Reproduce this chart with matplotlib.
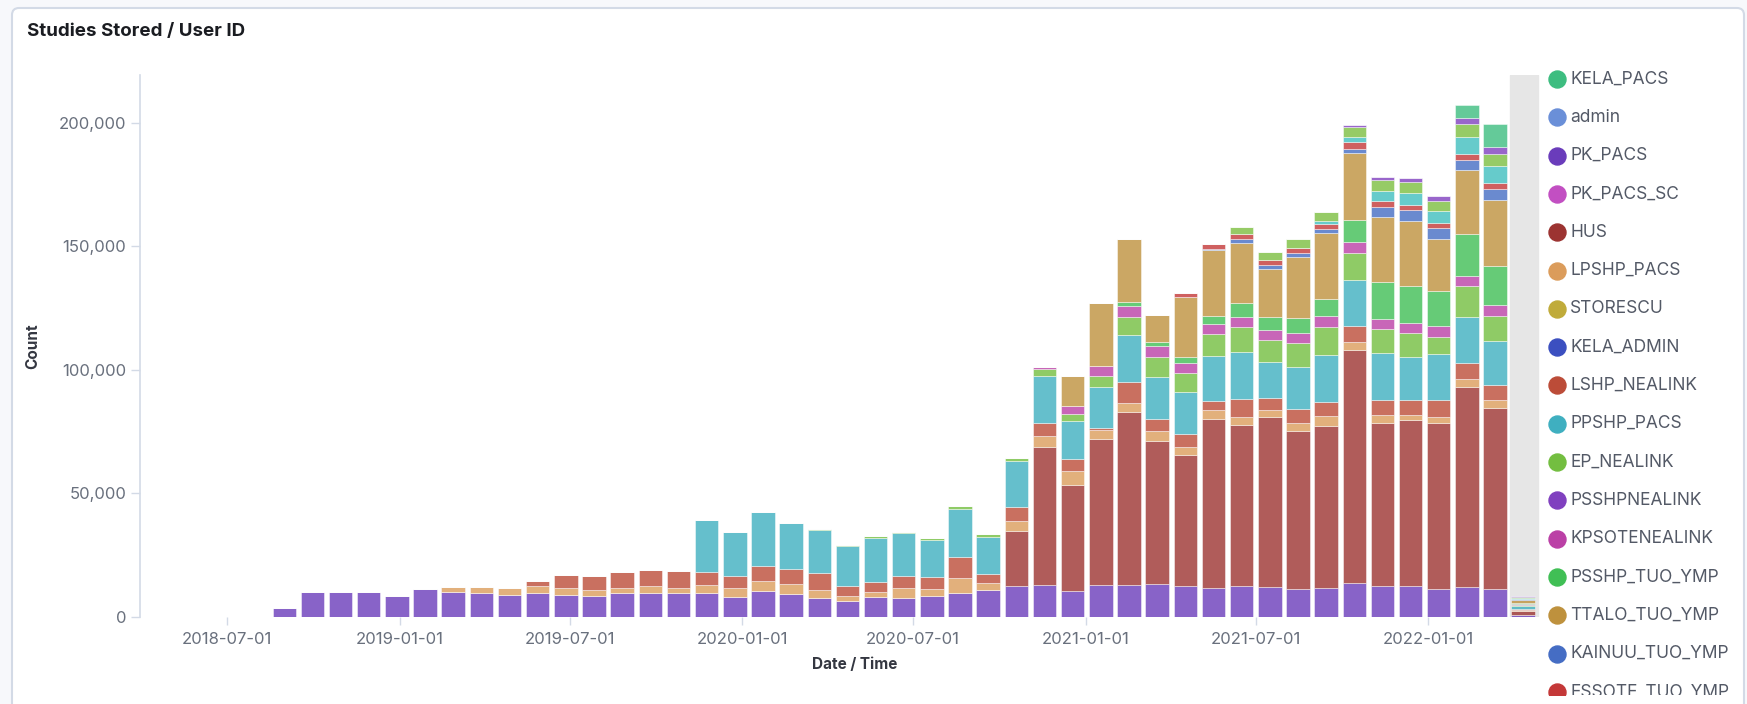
import pandas as pd
import matplotlib
matplotlib.use("Agg")
import matplotlib.pyplot as plt
import matplotlib.dates as mdates
from matplotlib.patches import FancyBboxPatch
from matplotlib.ticker import FuncFormatter

plt.rcParams['font.family'] = ['Inter', 'DejaVu Sans']

# 30 day buckets (Kibana fixed interval), first bucket starts 2018-08-17
bucket_start = '2018-08-17'
n_buckets = 45

# stacked series, bottom -> top, counts in thousands
PK_PACS = [3.8, 10.3, 10.3, 10.3, 8.6, 11.2, 10.3, 9.6, 8.9, 9.6,
           8.9, 8.5, 9.6, 9.6, 9.6, 9.6, 8.2, 10.5, 9.3, 7.8,
           6.5, 8.0, 7.8, 8.6, 9.6, 10.9, 12.5, 13.0, 10.7, 13.0,
           13.0, 13.4, 12.7, 11.9, 12.7, 12.3, 11.2, 11.7, 13.6, 12.7,
           12.6, 11.5, 12.0, 11.5, 0.8]
HUS = [0] * 26 + [22.3, 56.0, 42.8, 59.0,
                  69.8, 58.0, 52.9, 68.2, 65.1, 68.6, 64.1, 65.8, 94.3, 66.0,
                  67.0, 67.2, 81.3, 73.1, 1.6]
LPSHP_PACS = [0, 0, 0, 0, 0, 0, 1.7, 2.7, 2.7, 3.0,
              2.7, 2.4, 2.3, 3.0, 2.0, 3.4, 3.4, 4.1, 3.9, 3.1,
              2.0, 2.0, 4.0, 2.6, 6.0, 2.7, 4.2, 4.4, 5.6, 3.5,
              3.7, 3.7, 3.1, 3.7, 3.1, 2.9, 3.4, 3.9, 3.6, 3.2,
              2.3, 2.3, 3.0, 3.3, 0.3]
LSHP_NEALINK = [0, 0, 0, 0, 0, 0, 0, 0, 0, 2.1,
                5.3, 5.7, 6.2, 6.3, 7.0, 5.4, 5.0, 6.1, 6.1, 6.8,
                4.2, 4.3, 4.9, 4.8, 8.6, 3.9, 5.4, 5.3, 4.8, 0.9,
                8.8, 5.0, 5.3, 3.7, 7.3, 5.0, 5.4, 5.8, 6.1, 6.0,
                6.0, 6.9, 6.7, 6.1, 0.4]
PPSHP_PACS = [0] * 15 + [20.9, 17.7, 21.7, 18.9, 17.5,
                         16.1, 17.6, 17.2, 15.2, 19.4, 15.0, 18.8, 19.0, 15.6, 16.9,
                         18.9, 17.2, 16.9, 18.3, 18.9, 14.3, 17.3, 18.9, 18.9, 18.9,
                         17.5, 18.6, 18.6, 17.8, 1.2]
EP_NEALINK = [0] * 19 + [0.4,
                         0.4, 0.9, 0.6, 0.9, 1.4, 1.0, 1.1, 2.7, 2.7, 4.4,
                         7.2, 7.9, 7.8, 8.8, 10.2, 9.1, 9.4, 11.1, 10.8, 9.7,
                         9.5, 7.0, 12.2, 10.2, 0.5]
KPSOTENEALINK = [0] * 27 + [0.7, 3.4, 4.1,
                            4.3, 4.3, 4.0, 4.1, 4.3, 3.8, 4.1, 4.7, 4.4, 4.1,
                            4.3, 4.1, 4.3, 4.1, 0.3]
PSSHP_TUO_YMP = [0] * 30 + [2.0, 2.0, 2.7, 3.2, 5.4, 5.6, 6.1, 6.9, 9.1, 15.2,
                            14.6, 14.2, 16.9, 16.1, 0.5]
TTALO_TUO_YMP = [0] * 28 + [12.0, 25.2,
                            25.4, 10.8, 24.3, 26.7, 24.3, 19.3, 24.7, 26.6, 27.0, 26.3,
                            26.7, 21.3, 25.8, 26.7, 1.2]
KAINUU_TUO_YMP = [0] * 33 + [0.5, 1.7, 1.4, 1.6, 1.6, 1.7, 3.7,
                             4.3, 4.3, 4.3, 4.3, 0.3]
ESSOTE_TUO_YMP = [0] * 32 + [1.4, 2.0, 2.1, 2.3, 2.0, 2.2, 2.6, 2.7,
                             2.1, 2.0, 2.4, 2.4, 0.2]
hidden_1 = [0] * 37 + [0.9, 2.4, 3.8, 4.7, 5.0, 7.0, 7.1, 0.5]
hidden_2 = [0] * 34 + [2.7, 3.1, 3.7, 3.8, 3.8, 4.4,
                       4.3, 4.1, 5.0, 4.8, 0.4]
PSSHPNEALINK = [0] * 38 + [1.0, 1.6, 2.0, 2.1, 2.5, 2.7, 0.1]
KELA_PACS = [0] * 42 + [5.4, 9.3, 0.2]

stack_names = ['PK_PACS', 'HUS', 'LPSHP_PACS', 'LSHP_NEALINK', 'PPSHP_PACS',
               'EP_NEALINK', 'KPSOTENEALINK', 'PSSHP_TUO_YMP', 'TTALO_TUO_YMP',
               'KAINUU_TUO_YMP', 'ESSOTE_TUO_YMP', 'hidden_1', 'hidden_2',
               'PSSHPNEALINK', 'KELA_PACS']
stack_values = [PK_PACS, HUS, LPSHP_PACS, LSHP_NEALINK, PPSHP_PACS,
                EP_NEALINK, KPSOTENEALINK, PSSHP_TUO_YMP, TTALO_TUO_YMP,
                KAINUU_TUO_YMP, ESSOTE_TUO_YMP, hidden_1, hidden_2,
                PSSHPNEALINK, KELA_PACS]

colors = {
    'KELA_PACS': '#3dbd80', 'admin': '#6a8fd8', 'PK_PACS': '#6a3cbb',
    'PK_PACS_SC': '#c24fc2', 'HUS': '#9c3331', 'LPSHP_PACS': '#db9c5b',
    'STORESCU': '#c0ab3a', 'KELA_ADMIN': '#3b4fc0', 'LSHP_NEALINK': '#bc4c38',
    'PPSHP_PACS': '#3fafc0', 'EP_NEALINK': '#73be40', 'PSSHPNEALINK': '#8040bf',
    'KPSOTENEALINK': '#bb40a6', 'PSSHP_TUO_YMP': '#40bf55',
    'TTALO_TUO_YMP': '#be913d', 'KAINUU_TUO_YMP': '#456dc4',
    'ESSOTE_TUO_YMP': '#c43838', 'hidden_1': '#40bfbf', 'hidden_2': '#7cbf40',
}

legend_names = ['KELA_PACS', 'admin', 'PK_PACS', 'PK_PACS_SC', 'HUS',
                'LPSHP_PACS', 'STORESCU', 'KELA_ADMIN', 'LSHP_NEALINK',
                'PPSHP_PACS', 'EP_NEALINK', 'PSSHPNEALINK', 'KPSOTENEALINK',
                'PSSHP_TUO_YMP', 'TTALO_TUO_YMP', 'KAINUU_TUO_YMP',
                'ESSOTE_TUO_YMP']

xtick_dates = ['2018-07-01', '2019-01-01', '2019-07-01', '2020-01-01',
               '2020-07-01', '2021-01-01', '2021-07-01', '2022-01-01']
yticks = [0, 50000, 100000, 150000, 200000]

W, H = 1747, 704
fig = plt.figure(figsize=(W / 100, H / 100), dpi=100)
fig.patch.set_facecolor('#f7f8fb')

# panel background
bg = fig.add_axes([0, 0, 1, 1])
bg.set_xlim(0, W)
bg.set_ylim(H, 0)
bg.axis('off')
bg.add_patch(FancyBboxPatch((12, 8), 1732, 740, boxstyle='round,pad=0,rounding_size=7',
                            facecolor='white', edgecolor='#d3dae6', linewidth=1.5))

ax = fig.add_axes([140 / W, 87 / H, (1542 - 140) / W, 542 / H])
ax.patch.set_alpha(0)

starts = pd.date_range(bucket_start, periods=n_buckets, freq='30D')
bottom = [0.0] * n_buckets
for name, vals in zip(stack_names, stack_values):
    counts = [v * 1000 for v in vals]
    ax.bar(starts + pd.Timedelta(days=1.5), counts, width=25, align='edge',
           bottom=bottom, color=colors[name], alpha=0.8,
           edgecolor='white', linewidth=0.4, zorder=3)
    bottom = [b + c for b, c in zip(bottom, counts)]

# partial last bucket
ax.axvspan(starts[-1], starts[-1] + pd.Timedelta(days=30), color='#e6e6e6', zorder=1)

x0 = pd.Timestamp('2018-07-01')
ax.set_xlim(x0 - pd.Timedelta(days=92.7), x0 + pd.Timedelta(days=1401))
ax.set_ylim(0, 219400)

ax.set_xticks(pd.to_datetime(xtick_dates))
ax.xaxis.set_major_formatter(mdates.DateFormatter('%Y-%m-%d'))
ax.set_yticks(yticks)
ax.yaxis.set_major_formatter(FuncFormatter(lambda v, p: f'{int(v):,}'))

for s in ['top', 'right', 'bottom']:
    ax.spines[s].set_visible(False)
ax.spines['left'].set_color('#d3dae6')
ax.spines['left'].set_linewidth(1.2)
ax.tick_params(axis='y', length=6.5, width=1, color='#d3dae6', pad=3.5,
               labelsize=12, labelcolor='#69707d')
ax.tick_params(axis='x', length=6, width=1, color='#d3dae6', pad=5,
               labelsize=12, labelcolor='#69707d')

ax.set_ylabel('Count', fontsize=11, fontweight='bold', color='#343741')
ax.yaxis.set_label_coords(-0.071, 0.5)
ax.set_xlabel('Date / Time', fontsize=11, fontweight='bold', color='#343741')
ax.xaxis.set_label_coords(0.51, -0.074)

fig.text(27 / W, 1 - 32 / H, 'Studies Stored / User ID', fontsize=13.5,
         fontweight='bold', color='#1a1c21', va='center', ha='left')

# legend (list is longer than the panel, clipped at the bottom)
lax = fig.add_axes([1545 / W, 9 / H, (W - 1545) / W, (695 - 60) / H])
lax.set_xlim(1545, W)
lax.set_ylim(695, 60)
lax.axis('off')
for i, name in enumerate(legend_names):
    y = 79 + 38.3 * i
    lax.scatter([1557], [y], s=150, color=colors[name], clip_on=True, zorder=3)
    lax.text(1570, y, name, fontsize=12.5, color='#535966', va='center',
             ha='left', clip_on=True)

fig.savefig('out.png', dpi=100, facecolor=fig.get_facecolor())
